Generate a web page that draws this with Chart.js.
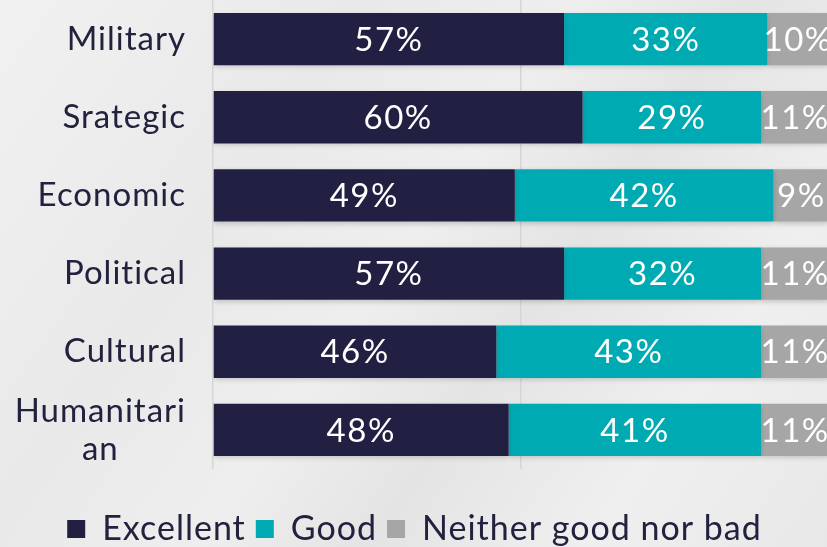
<!DOCTYPE html>
<html>
<head>
<meta charset="utf-8">
<script src="https://cdn.jsdelivr.net/npm/chart.js@4"></script>
<style>
  html, body { margin: 0; padding: 0; overflow: hidden; }
  body {
    width: 827px; height: 547px;
    background: linear-gradient(125deg, #f1f1f1 0%, #e9e9e9 30%, #eeeeee 48%, #e4e4e4 62%, #efefef 80%, #e8e8e8 100%);
  }
  /* a little larger than the window: the original is cropped on the right and bottom */
  #wrap { position: relative; width: 832px; height: 556px; }
</style>
</head>
<body>
<div id="wrap"><canvas id="bar-chart"></canvas></div>
<script>
var categories = ["Military", "Srategic", "Economic", "Political", "Cultural", ["Humanitari", "an"]];
var excellent = [57, 60, 49, 57, 46, 48];
var good = [33, 29, 42, 32, 43, 41];
var neither = [10, 11, 9, 11, 11, 11];
var seriesNames = ["Excellent", "Good", "Neither good nor bad"];

var FONT = "Lato, 'Noto Sans', sans-serif";
var textColor = "#22223f";

// wider letters, closer to the original geometric face (used by the legend)
var spacing = {
  id: "spacing",
  beforeLayout: function (chart) { chart.ctx.letterSpacing = "1px"; },
  beforeDraw: function (chart) { chart.ctx.letterSpacing = "1px"; },
};

// soft shadow under the bars
var barShadow = {
  id: "barShadow",
  beforeDatasetsDraw: function (chart) {
    var ctx = chart.ctx;
    ctx.save();
    ctx.shadowColor = "rgba(0,0,0,0.18)";
    ctx.shadowBlur = 5;
    ctx.shadowOffsetY = 2;
  },
  afterDatasetsDraw: function (chart) {
    chart.ctx.restore();
  },
};

// value text in the middle of each segment
var segmentLabels = {
  id: "segmentLabels",
  afterDatasetsDraw: function (chart) {
    var ctx = chart.ctx;
    ctx.save();
    ctx.letterSpacing = "1.5px";
    ctx.font = "33px " + FONT;
    ctx.fillStyle = "#ffffff";
    ctx.textAlign = "center";
    ctx.textBaseline = "middle";
    chart.data.datasets.forEach(function (ds, i) {
      var meta = chart.getDatasetMeta(i);
      meta.data.forEach(function (bar, j) {
        var cx = (bar.x + bar.base) / 2;
        ctx.fillText(ds.data[j] + "%", cx, bar.y + 1);
      });
    });
    ctx.restore();
  },
};

// category names, right aligned, wrapped lines centred on each other
var categoryLabels = {
  id: "categoryLabels",
  afterDraw: function (chart) {
    var ctx = chart.ctx;
    var yScale = chart.scales.y;
    var right = 186;
    ctx.save();
    ctx.letterSpacing = "1px";
    ctx.font = "33px " + FONT;
    ctx.fillStyle = textColor;
    ctx.textAlign = "center";
    ctx.textBaseline = "middle";
    chart.data.labels.forEach(function (lbl, i) {
      var lines = Array.isArray(lbl) ? lbl : [lbl];
      var w = 0;
      lines.forEach(function (l) { w = Math.max(w, ctx.measureText(l).width); });
      var y = yScale.getPixelForTick(i);
      lines.forEach(function (l, k) {
        ctx.fillText(l, right - w / 2, y + (k - (lines.length - 1) / 2) * 38);
      });
    });
    ctx.restore();
  },
};

const data = {
  labels: categories,
  datasets: [
    { label: seriesNames[0], data: excellent, backgroundColor: "#212042" },
    { label: seriesNames[1], data: good, backgroundColor: "#00aab3" },
    { label: seriesNames[2], data: neither, backgroundColor: "#a6a6a6" },
  ],
};

const config = {
  type: "bar",
  data: data,
  options: {
    indexAxis: "y",
    responsive: true,
    maintainAspectRatio: false,
    animation: false,
    datasets: { bar: { categoryPercentage: 1, barPercentage: 0.67 } },
    layout: { padding: { top: 0, right: 3, bottom: 0, left: 0 } },
    scales: {
      x: {
        stacked: true,
        min: 0,
        max: 100,
        ticks: { display: false, stepSize: 50 },
        grid: { color: "#d6d6d6", drawTicks: false, lineWidth: 1.5 },
        border: { display: false },
        afterFit: function (scale) { scale.height = 33; },
      },
      y: {
        stacked: true,
        ticks: { display: false },
        grid: { display: false },
        border: { display: false },
        afterFit: function (scale) { scale.width = 213; },
      },
    },
    plugins: {
      legend: {
        position: "bottom",
        labels: {
          boxWidth: 18,
          boxHeight: 18,
          padding: 10,
          color: textColor,
          font: { size: 34, family: FONT },
        },
      },
      tooltip: { enabled: false },
    },
  },
  plugins: [spacing, barShadow, segmentLabels, categoryLabels],
};

var myChart = new Chart(document.getElementById("bar-chart"), config);
</script>
</body>
</html>
